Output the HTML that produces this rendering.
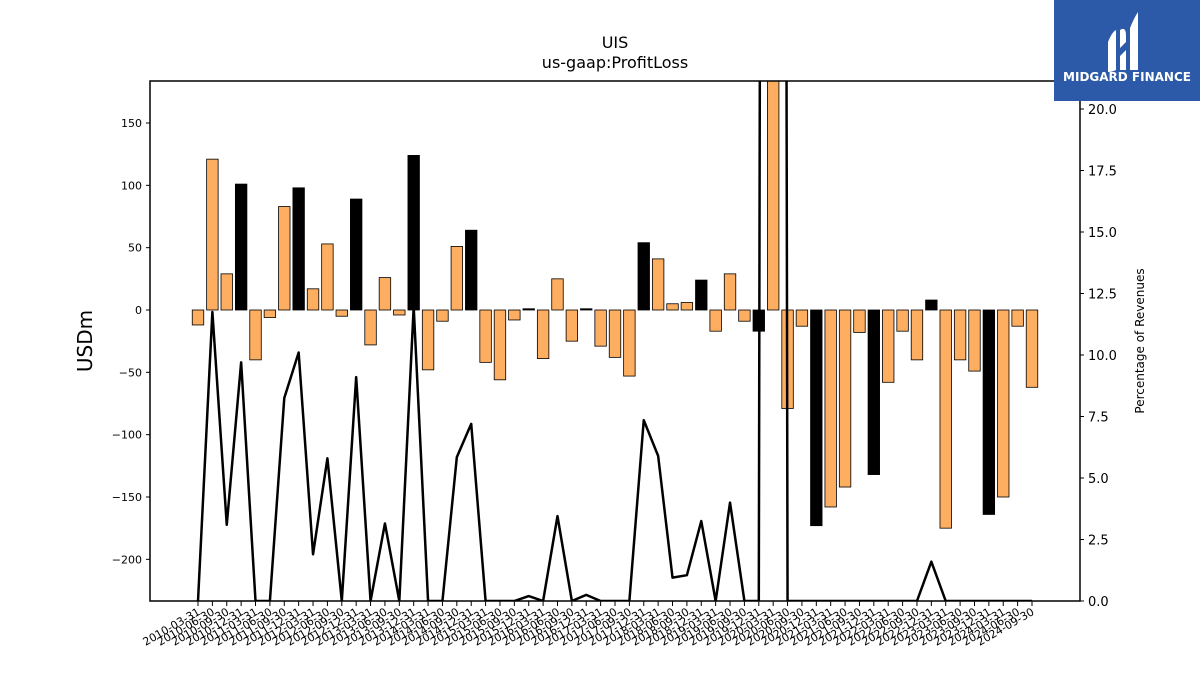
<!DOCTYPE html>
<html><head><meta charset="utf-8"><style>
body{margin:0;background:#fff;font-family:"Liberation Sans","DejaVu Sans",sans-serif}
svg text{font-family:"DejaVu Sans","Liberation Sans",sans-serif}
</style></head><body>
<svg id="chart" width="1200" height="675" xmlns="http://www.w3.org/2000/svg">
<text x="615" y="48" font-size="16" text-anchor="middle">UIS</text>
<text x="615" y="68" font-size="16" text-anchor="middle">us-gaap:ProfitLoss</text>
<text transform="translate(92,341) rotate(-90)" font-size="20" text-anchor="middle">USDm</text>
<text transform="translate(1144,341) rotate(-90)" font-size="12" text-anchor="middle">Percentage of Revenues</text>
<g id="bars"></g>
<g id="line"></g>
<g id="axes"></g>
<rect x="150" y="81" width="930" height="520" fill="none" stroke="#000" stroke-width="1.5"/>
<g>
<rect x="1054" y="0" width="146" height="101" fill="#2c5aa8"/>
<path d="M1108 42 q4 -10 8 -12 v40 q-4 2 -8 2 z M1120 30 q6 -4 6 6 v6 l-6 6 z M1120 56 l6 -6 v20 h-6 z M1130 28 q4 -10 8 -16 v58 h-8 z" fill="#fff"/>
<text x="1127" y="81" font-size="12" font-weight="bold" fill="#fff" text-anchor="middle" font-family="Liberation Sans">MIDGARD FINANCE</text>
</g>
</svg>
<script>
const categories=[];
for(let y=2010;y<=2024;y++){for(const q of ["03-31","06-30","09-30","12-31"]){if(y===2024&&q==="12-31")continue;categories.push(y+"-"+q);}}
const profitLoss=[-12,121,29,101,-40,-6,83,98,17,53,-5,89,-28,26,-4,124,-48,-9,51,64,-42,-56,-8,1,-39,25,-25,1,-29,-38,-53,54,41,5,6,24,-17,29,-9,-17,250,-79,-13,-173,-158,-142,-18,-132,-58,-17,-40,8,-175,-40,-49,-164,-150,-13,-62];
const pctRevenue=[0,11.75,3.1,9.7,0,0,8.25,10.1,1.9,5.8,0,9.1,0,3.15,0,11.95,0,0,5.85,7.2,0,0,0,0.2,0,3.45,0,0.25,0,0,0,7.35,5.9,0.95,1.05,3.25,0,4.0,0,0,300,0,0,0,0,0,0,0,0,0,0,1.6,0,0,0,0,0,0,0];
const leftTicks=[-200,-150,-100,-50,0,50,100,150];
const rightTicks=[0,2.5,5,7.5,10,12.5,15,17.5,20];
const NS="http://www.w3.org/2000/svg";
const X0=150,X1=1080,Y0=81,Y1=601;
const step=(1032-198)/58;
const xs=i=>198+i*step;
const yL=v=>310-v*(187/150);
const yR=v=>601-v*24.6;
function mk(t,a,p){const e=document.createElementNS(NS,t);for(const k in a)e.setAttribute(k,a[k]);p.appendChild(e);return e;}
const bars=document.getElementById('bars'),line=document.getElementById('line'),axes=document.getElementById('axes');
const clip=mk('clipPath',{id:'pc'},document.getElementById('chart'));mk('rect',{x:X0,y:Y0,width:X1-X0,height:Y1-Y0},clip);
bars.setAttribute('clip-path','url(#pc)');line.setAttribute('clip-path','url(#pc)');
const bw=step*0.8;
profitLoss.forEach((v,i)=>{
 const y=Math.min(yL(v),yL(0)),h=Math.abs(yL(v)-yL(0));
 const r=mk('rect',{x:xs(i)-bw/2,y:y,width:bw,height:h,fill:(i%4===3)?'#000':'#fdae61',stroke:'#000','stroke-width':0.8},bars);
 
 
});
const pts=pctRevenue.map((v,i)=>xs(i)+','+yR(v)).join(' ');
const pl=mk('polyline',{points:pts,fill:'none',stroke:'#000','stroke-width':2.5,'stroke-linejoin':'round'},line);


leftTicks.forEach(v=>{
 const y=yL(v);
 mk('line',{x1:X0-4,x2:X0,y1:y,y2:y,stroke:'#000'},axes);
 const t=mk('text',{x:X0-8,y:y+4,'font-size':11,'text-anchor':'end'},axes);t.textContent=v===0?'0':(v<0?'\u2212'+(-v):v);
 
 
});
rightTicks.forEach(v=>{
 const y=yR(v);
 mk('line',{x1:X1,x2:X1+4,y1:y,y2:y,stroke:'#000'},axes);
 const t=mk('text',{x:X1+8,y:y+5,'font-size':13},axes);t.textContent=v.toFixed(1);
 
 
});
categories.forEach((c,i)=>{
 const x=xs(i);
 mk('line',{x1:x,x2:x,y1:Y1,y2:Y1+5,stroke:'#000'},axes);
 const t=mk('text',{transform:`translate(${x+3},${Y1+13}) rotate(-30)`,'font-size':11,'text-anchor':'end'},axes);t.textContent=c;
 
 
});
</script>
</body></html>
